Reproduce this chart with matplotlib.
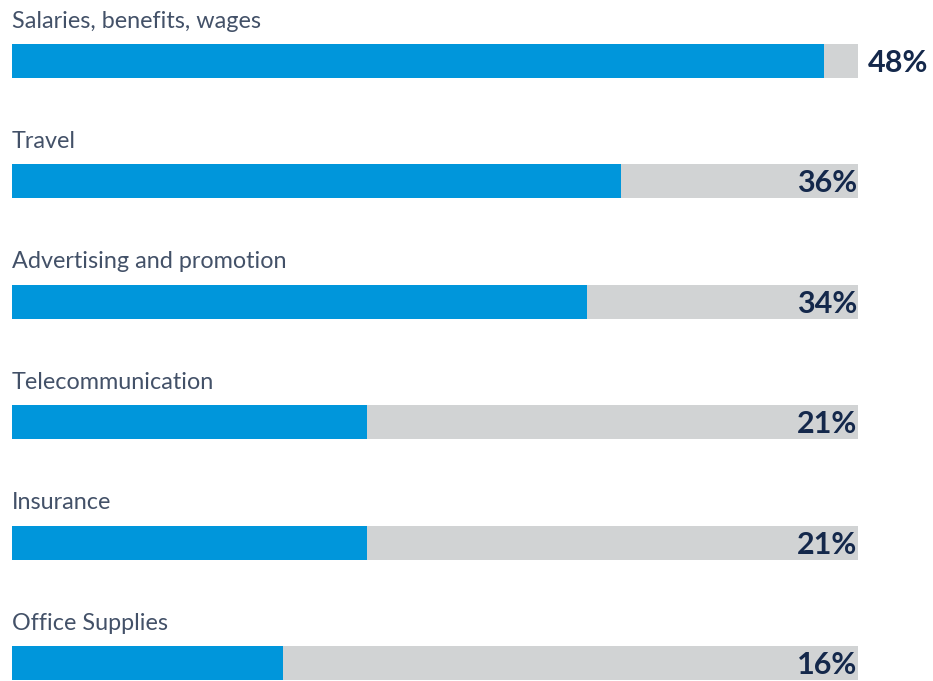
import matplotlib
matplotlib.use("Agg")
import matplotlib.pyplot as plt

categories = ["Salaries, benefits, wages", "Travel", "Advertising and promotion",
              "Telecommunication", "Insurance", "Office Supplies"]
values = [48, 36, 34, 21, 21, 16]
value_labels = ["48%", "36%", "34%", "21%", "21%", "16%"]
scale_max = 50

W, H = 933, 681
fig = plt.figure(figsize=(W / 100, H / 100), dpi=100)
ax = fig.add_axes([12 / W, 0, 846 / W, 1])
ax.set_xlim(0, scale_max)
row = 120.4
ax.set_ylim((H - 61) / row, -61 / row)
ax.axis("off")

blue = "#0096DB"
grey = "#D1D3D4"
navy = "#14284B"
label_col = "#435168"
bh = 34 / row

ys = list(range(len(categories)))
ax.barh(ys, [scale_max] * len(ys), height=bh, color=grey, left=0)
ax.barh(ys, values, height=bh, color=blue, left=0)

for i, (c, v, vl) in enumerate(zip(categories, values, value_labels)):
    ax.text(0, i - 40 / row, c, ha="left", va="center", fontsize=16.8,
            family="Lato", fontweight="normal", color=label_col)
    if v > 0.9 * scale_max:
        ax.text(scale_max + 10 / 846 * scale_max, i + 2 / row, vl, ha="left", va="center",
                fontsize=22, family="Lato", fontweight="bold", color=navy)
    else:
        ax.text(scale_max - 1 / 846 * scale_max, i + 2 / row, vl, ha="right", va="center",
                fontsize=22, family="Lato", fontweight="bold", color=navy)

fig.savefig("out.png", dpi=100)
